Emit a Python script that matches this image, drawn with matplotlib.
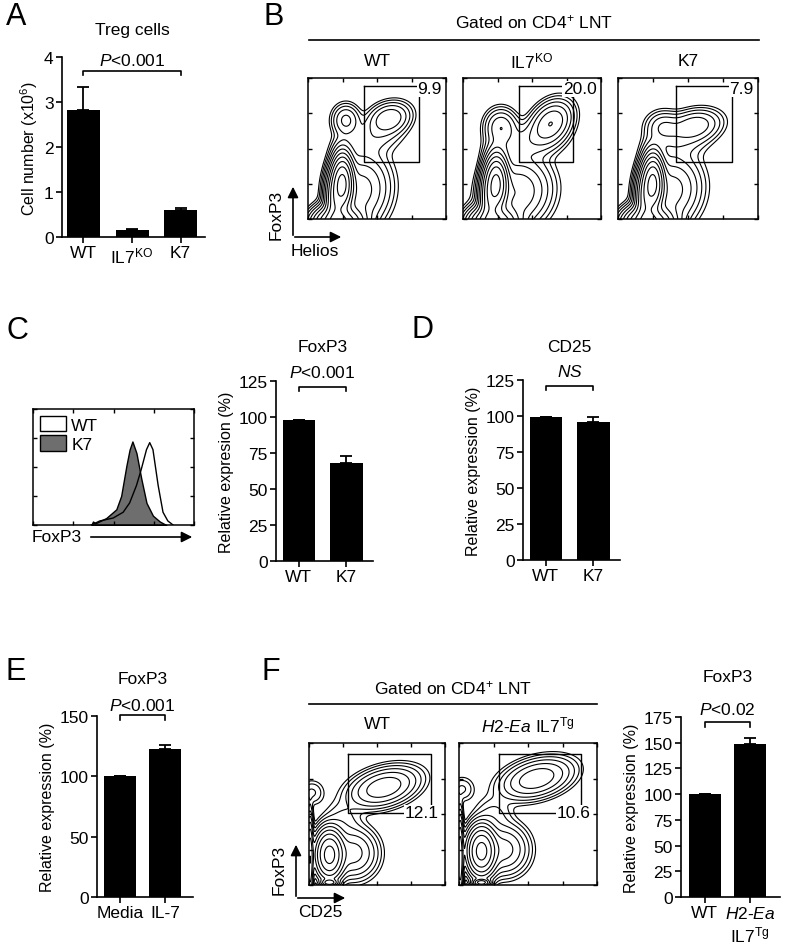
import numpy as np
import matplotlib
matplotlib.use('Agg')
import matplotlib.pyplot as plt
from matplotlib.lines import Line2D
from matplotlib.patches import FancyArrowPatch, Patch
from matplotlib.transforms import blended_transform_factory

plt.rcParams['font.family'] = ['Liberation Sans', 'DejaVu Sans']
plt.rcParams['mathtext.fontset'] = 'custom'
plt.rcParams['mathtext.rm'] = 'Liberation Sans'
plt.rcParams['mathtext.it'] = 'Liberation Sans:italic'
plt.rcParams['mathtext.bf'] = 'Liberation Sans:bold'
plt.rcParams['font.size'] = 12

# ---- data ----
# A: Treg cell numbers
a_groups = ['WT', 'IL7$^{\\mathrm{KO}}$', 'K7']
a_vals = [2.82, 0.15, 0.60]
a_errs = [0.52, 0.03, 0.04]

# C: FoxP3 relative expression
c_groups = ['WT', 'K7']
c_vals = [98, 68]
c_errs = [0, 5]

# C histogram (FoxP3 intensity, % of max height)
hist_x_k7 = [1.45, 1.49, 1.55, 1.82, 2.07, 2.19, 2.32, 2.40, 2.47, 2.57, 2.69, 2.82, 2.98, 3.15, 3.31]
hist_y_k7 = [0, 3, 1.5, 6, 13.5, 25, 51, 65, 72, 62, 40, 19, 8, 3, 0]
hist_x_wt = [1.45, 1.66, 1.99, 2.24, 2.40, 2.57, 2.69, 2.82, 2.90, 2.98, 3.11, 3.23, 3.35, 3.48]
hist_y_wt = [0, 3.5, 6, 11, 19, 34, 48, 65, 71, 65, 34, 11, 3.5, 0]

# D: CD25 relative expression
d_groups = ['WT', 'K7']
d_vals = [99, 96]
d_errs = [0, 3]

# E: FoxP3 with IL-7
e_groups = ['Media', 'IL-7']
e_vals = [100, 123]
e_errs = [0, 3]

# F: FoxP3 in transgenic
f_groups = ['WT', '$H2$-$Ea$\nIL7$^{\\mathrm{Tg}}$']
f_vals = [100, 149]
f_errs = [0, 6]

# B: flow populations (cx, cy, sx, sy, weight, rho) - Helios vs FoxP3
b_titles = ['WT', 'IL7$^{\\mathrm{KO}}$', 'K7']
b_gate_pct = ['9.9', '20.0', '7.9']
b_gates = [(1.63, 3.22, 1.63, 3.76), (1.63, 3.20, 1.63, 3.76), (1.67, 3.26, 1.63, 3.76)]
b_pops_wt = [(1.00, 1.00, 0.15, 0.38, 1.00, 0.0), (0.80, 0.55, 0.15, 0.45, 0.35, 0.0),
             (0.90, -0.15, 0.35, 0.25, 0.60, 0.0), (1.50, 0.80, 0.45, 0.55, 0.07, 0.1),
             (1.10, 2.80, 0.22, 0.25, 0.035, 0.0), (2.35, 2.85, 0.33, 0.25, 0.05, 0.2),
             (1.90, 2.30, 0.50, 0.30, 0.012, 0.2), (1.00, 1.90, 0.20, 0.30, 0.012, 0.0)]
b_pops_ko = [(0.97, 1.00, 0.16, 0.38, 1.00, 0.0), (0.78, 0.55, 0.15, 0.45, 0.35, 0.0),
             (0.90, -0.15, 0.35, 0.25, 0.60, 0.0), (1.55, 0.75, 0.50, 0.50, 0.09, 0.1),
             (1.10, 2.60, 0.25, 0.28, 0.05, 0.0), (2.55, 2.72, 0.32, 0.33, 0.09, 0.3),
             (1.90, 2.20, 0.55, 0.32, 0.02, 0.2), (1.00, 1.85, 0.22, 0.30, 0.02, 0.0)]
b_pops_k7 = [(1.00, 1.00, 0.15, 0.38, 1.00, 0.0), (0.80, 0.55, 0.15, 0.45, 0.35, 0.0),
             (0.90, -0.15, 0.35, 0.25, 0.60, 0.0), (1.50, 0.80, 0.45, 0.52, 0.07, 0.1),
             (1.30, 2.60, 0.28, 0.25, 0.03, 0.0), (2.20, 2.65, 0.40, 0.25, 0.045, 0.2),
             (1.80, 2.20, 0.50, 0.30, 0.012, 0.2), (1.00, 1.90, 0.20, 0.30, 0.012, 0.0)]

# F: flow populations - CD25 vs FoxP3
f_titles = ['WT', '$H2$-$Ea$ IL7$^{\\mathrm{Tg}}$']
f_gate_pct = ['12.1', '10.6']
f_gates = [(1.14, 3.59, 2.03, 3.69), (1.17, 3.55, 2.03, 3.69)]
f_pops_wt = [(0.60, 0.85, 0.20, 0.33, 1.00, 0.0), (0.03, 0.70, 0.05, 0.55, 0.40, 0.0),
             (0.60, 0.07, 0.12, 0.05, 0.30, 0.0), (1.30, 0.90, 0.35, 0.35, 0.08, 0.0),
             (2.20, 2.75, 0.50, 0.28, 0.10, 0.35), (0.10, 2.60, 0.20, 0.20, 0.01, 0.0),
             (1.00, 1.80, 0.30, 0.30, 0.012, 0.0)]
f_pops_tg = [(0.65, 0.95, 0.20, 0.33, 1.00, 0.0), (0.03, 0.75, 0.05, 0.55, 0.40, 0.0),
             (0.65, 0.07, 0.12, 0.05, 0.30, 0.0), (1.30, 1.00, 0.35, 0.35, 0.08, 0.0),
             (2.25, 3.00, 0.50, 0.28, 0.10, 0.35), (0.10, 2.70, 0.20, 0.20, 0.01, 0.0),
             (1.00, 1.95, 0.30, 0.30, 0.012, 0.0)]

W, H = 800, 945
fig = plt.figure(figsize=(8, 9.45), dpi=100)


def fx(px):
    return px / W


def fy(py):
    return 1 - py / H


def add_ax(x0, y0, x1, y1):
    return fig.add_axes([fx(x0), fy(y1), (x1 - x0) / W, (y1 - y0) / H])


def bar_panel(ax, groups, vals, errs, ylim, yticks, xlim, width, ylabel):
    x = np.arange(len(groups))
    ax.bar(x, vals, width=width, color='black', zorder=2)
    ax.errorbar(x, vals, yerr=[[0] * len(errs), errs], fmt='none', ecolor='black',
                capsize=4.5, elinewidth=1.3, capthick=1.3, zorder=3)
    ax.set_xlim(*xlim)
    ax.set_ylim(*ylim)
    ax.set_yticks(yticks)
    ax.set_xticks(x)
    ax.set_xticklabels(groups)
    ax.set_ylabel(ylabel, fontsize=11.5, labelpad=3)
    for s in ['top', 'right']:
        ax.spines[s].set_visible(False)
    for s in ['left', 'bottom']:
        ax.spines[s].set_linewidth(1.2)
    ax.tick_params(direction='out', length=4, width=1.2, labelsize=12.5, pad=2)


def bracket(ax, x0, x1, y, drop, text, title, text_py, title_py):
    ax.plot([x0, x0, x1, x1], [y - drop, y, y, y - drop], color='black', lw=1.2,
            clip_on=False)
    tr = blended_transform_factory(ax.transData, fig.transFigure)
    ax.text((x0 + x1) / 2, fy(text_py), text, transform=tr, ha='center', va='center',
            fontsize=12.5)
    ax.text((x0 + x1) / 2, fy(title_py), title, transform=tr, ha='center', va='center',
            fontsize=12.5)


def density(pops):
    g = np.linspace(0, 4, 300)
    X, Y = np.meshgrid(g, g)
    Z = np.zeros_like(X)
    for cx, cy, sx, sy, w, r in pops:
        dx = (X - cx) / sx
        dy = (Y - cy) / sy
        Z += w * np.exp(-0.5 / (1 - r ** 2) * (dx ** 2 - 2 * r * dx * dy + dy ** 2))
    return X, Y, Z


def flow_panel(ax, pops, gate, pct, pct_at_top, lo, n):
    X, Y, Z = density(pops)
    levels = np.max(Z) * 10 ** np.linspace(lo, -0.12, n)
    ax.contour(X, Y, Z, levels=levels, colors='black', linewidths=0.8)
    ax.set_xlim(0, 4)
    ax.set_ylim(0, 4)
    ax.set_xticks([0, 1, 2, 3, 4])
    ax.set_yticks([0, 1, 2, 3, 4])
    ax.tick_params(direction='in', length=3, width=1, top=True, right=True,
                   labelbottom=False, labelleft=False)
    for s in ax.spines.values():
        s.set_linewidth(1.1)
    gl, gr, gb, gt = gate
    ax.plot([gl, gr, gr, gl, gl], [gt, gt, gb, gb, gt], color='black', lw=1.0)
    if pct_at_top:
        ax.text(3.88, gt - 0.07, pct, ha='right', va='center', fontsize=12.5,
                bbox=dict(facecolor='white', edgecolor='none', pad=0.5))
    else:
        ax.text(3.82, gb, pct, ha='right', va='center', fontsize=12.5,
                bbox=dict(facecolor='white', edgecolor='none', pad=0.5))


def arrow(x0, y0, x1, y1):
    fig.add_artist(FancyArrowPatch((fx(x0), fy(y0)), (fx(x1), fy(y1)),
                                   transform=fig.transFigure, arrowstyle='-|>',
                                   mutation_scale=16, color='black', lw=1.2))


def panel_letter(px, py, s):
    fig.text(fx(px), fy(py), s, fontsize=22, ha='left', va='center')


# ---- A ----
ax = add_ax(62, 58, 205, 238)
bar_panel(ax, a_groups, a_vals, a_errs, (0, 4), [0, 1, 2, 3, 4], (-0.44, 2.5), 0.68,
          'Cell number (x10$^{6}$)')
bracket(ax, 0, 2, 3.69, 0.1, '$P$<0.001', 'Treg cells', 61, 30)
panel_letter(6, 17, 'A')

# ---- B ----
b_boxes = [(308, 446), (463, 601), (618, 758)]
for (x0, x1), pops, title, gate, pct in zip(b_boxes, [b_pops_wt, b_pops_ko, b_pops_k7],
                                            b_titles, b_gates, b_gate_pct):
    ax = add_ax(x0, 79, x1, 220)
    flow_panel(ax, pops, gate, pct, True, -2.55, 11)
    fig.text(fx((x0 + x1) / 2), fy(61), title, ha='center', va='center', fontsize=12.5)
fig.add_artist(Line2D([fx(309), fx(759)], [fy(41), fy(41)], color='black', lw=1.2,
                      transform=fig.transFigure))
fig.text(fx(534), fy(22), 'Gated on CD4$^{+}$ LNT', ha='center', va='center', fontsize=12.5)
arrow(293, 239, 293, 185)
arrow(292, 238, 344, 238)
fig.text(fx(276), fy(215), 'FoxP3', rotation=90, ha='center', va='center', fontsize=12.5)
fig.text(fx(291), fy(251), 'Helios', ha='left', va='center', fontsize=12.5)
panel_letter(263, 17, 'B')

# ---- C histogram ----
ax = add_ax(33, 410, 194, 526)
ax.fill_between(hist_x_k7, hist_y_k7, color='#6e6e6e', edgecolor='black', lw=1.0)
ax.plot(hist_x_wt, hist_y_wt, color='black', lw=1.0)
ax.set_xlim(0, 4)
ax.set_ylim(0, 100)
ax.set_xticks([0, 1, 2, 3, 4])
ax.set_yticks([0, 25, 50, 75, 100])
ax.tick_params(direction='in', length=3, width=1, top=True, right=True,
               labelbottom=False, labelleft=False)
for s in ax.spines.values():
    s.set_linewidth(1.1)
ax.legend(handles=[Patch(facecolor='white', edgecolor='black', label='WT'),
                   Patch(facecolor='#6e6e6e', edgecolor='black', label='K7')],
          loc='upper left', frameon=False, fontsize=12.5, handlelength=1.5,
          handleheight=1.0, handletextpad=0.3, labelspacing=0.15, borderaxespad=0.2,
          borderpad=0.2)
fig.text(fx(32), fy(538), 'FoxP3', ha='left', va='center', fontsize=12.5)
arrow(88, 538, 195, 538)
panel_letter(6, 331, 'C')

# ---- C bars ----
ax = add_ax(276, 382, 373, 562)
bar_panel(ax, c_groups, c_vals, c_errs, (0, 125), [0, 25, 50, 75, 100, 125],
          (-0.48, 1.56), 0.68, 'Relative expresion (%)')
bracket(ax, 0, 1, 121, 3, '$P$<0.001', 'FoxP3', 373, 348)

# ---- D ----
ax = add_ax(523, 381, 620, 561)
bar_panel(ax, d_groups, d_vals, d_errs, (0, 125), [0, 25, 50, 75, 100, 125],
          (-0.48, 1.56), 0.68, 'Relative expression (%)')
bracket(ax, 0, 1, 121, 3, '$NS$', 'CD25', 372, 347)
panel_letter(412, 330, 'D')

# ---- E ----
ax = add_ax(97, 717, 193, 898)
bar_panel(ax, e_groups, e_vals, e_errs, (0, 150), [0, 50, 100, 150],
          (-0.51, 1.62), 0.71, 'Relative expression (%)')
bracket(ax, 0, 1, 150.5, 4, '$P$<0.001', 'FoxP3', 706, 680)
panel_letter(6, 672, 'E')

# ---- F flow ----
f_boxes = [(309, 445), (459, 597)]
for (x0, x1), pops, title, gate, pct in zip(f_boxes, [f_pops_wt, f_pops_tg],
                                            f_titles, f_gates, f_gate_pct):
    ax = add_ax(x0, 744, x1, 886)
    flow_panel(ax, pops, gate, pct, False, -2.6, 10)
    fig.text(fx((x0 + x1) / 2), fy(725), title, ha='center', va='center', fontsize=12.5)
fig.add_artist(Line2D([fx(309), fx(597)], [fy(705), fy(705)], color='black', lw=1.2,
                      transform=fig.transFigure))
fig.text(fx(453), fy(688), 'Gated on CD4$^{+}$ LNT', ha='center', va='center', fontsize=12.5)
arrow(296, 900, 296, 843)
arrow(295, 899, 348, 899)
fig.text(fx(279), fy(870), 'FoxP3', rotation=90, ha='center', va='center', fontsize=12.5)
fig.text(fx(298), fy(913), 'CD25', ha='left', va='center', fontsize=12.5)
panel_letter(262, 672, 'F')

# ---- F bars ----
ax = add_ax(681, 718, 780, 898)
bar_panel(ax, f_groups, f_vals, f_errs, (0, 175), [0, 25, 50, 75, 100, 125, 150, 175],
          (-0.53, 1.67), 0.7, 'Relative expression (%)')
bracket(ax, 0, 1, 170, 5, '$P$<0.02', 'FoxP3', 710, 678)

fig.savefig('out.png', dpi=100)
